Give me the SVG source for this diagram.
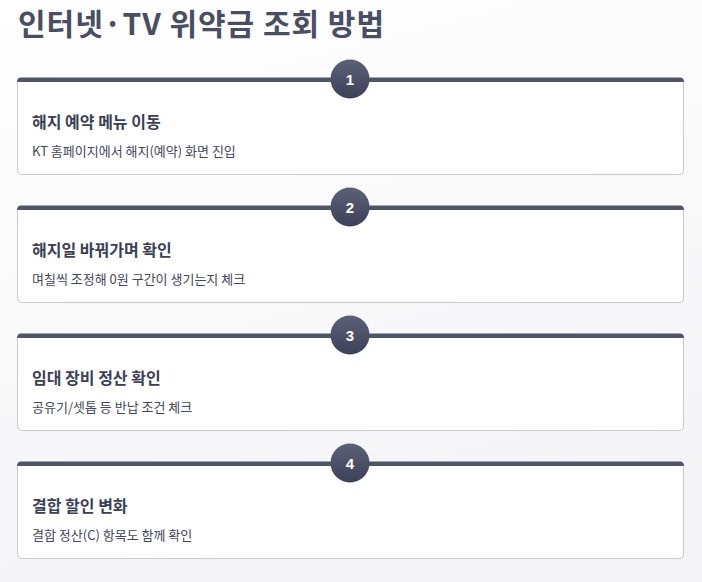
<svg xmlns="http://www.w3.org/2000/svg" width="702" height="582" viewBox="0 0 702 582">
<defs>
<linearGradient id="bg" x1="0" y1="0" x2="0.3" y2="1">
<stop offset="0" stop-color="#ffffff"/>
<stop offset="1" stop-color="#f4f4f6"/>
</linearGradient>
<linearGradient id="cg" x1="0" y1="0" x2="0" y2="1">
<stop offset="0" stop-color="#5d6177"/>
<stop offset="1" stop-color="#3d4157"/>
</linearGradient>
<style>
.card{fill:#ffffff;stroke:#c9c9d1;stroke-width:1}
.bar{fill:#50546a}
.num{font-family:"Liberation Sans",Arial,sans-serif;font-weight:bold;font-size:15px;fill:#ffffff;text-anchor:middle}
.t{font-family:"Noto Sans CJK KR","Noto Sans",sans-serif;font-weight:bold;font-size:16px;fill:#3c4054}
.s{font-family:"Noto Sans CJK KR","Noto Sans",sans-serif;font-size:13px;fill:#43475a}
.h{font-family:"Noto Sans CJK KR","Noto Sans",sans-serif;font-weight:bold;font-size:30px;fill:#4a4e62}
</style>
</defs>
<rect width="702" height="582" fill="url(#bg)"/>
<text class="h" x="18" y="35" textLength="366" lengthAdjust="spacing">인터넷·TV 위약금 조회 방법</text>
<g id="step1">
<rect class="card" x="17.5" y="78.5" width="666" height="96" rx="4"/>
<path class="bar" d="M17,82 Q17,77.5 21,77.5 H680 Q684,77.5 684,82 Z"/>
<circle cx="350" cy="79" r="19.5" fill="url(#cg)"/>
<text class="num" x="350" y="84.5">1</text>
<text class="t" x="32" y="128">해지 예약 메뉴 이동</text>
<text class="s" x="32" y="156">KT 홈페이지에서 해지(예약) 화면 진입</text>
</g>
<g id="step2">
<rect class="card" x="17.5" y="206.5" width="666" height="96" rx="4"/>
<path class="bar" d="M17,210 Q17,205.5 21,205.5 H680 Q684,205.5 684,210 Z"/>
<circle cx="350" cy="207" r="19.5" fill="url(#cg)"/>
<text class="num" x="350" y="212.5">2</text>
<text class="t" x="32" y="256">해지일 바꿔가며 확인</text>
<text class="s" x="32" y="284">며칠씩 조정해 0원 구간이 생기는지 체크</text>
</g>
<g id="step3">
<rect class="card" x="17.5" y="334.5" width="666" height="96" rx="4"/>
<path class="bar" d="M17,338 Q17,333.5 21,333.5 H680 Q684,333.5 684,338 Z"/>
<circle cx="350" cy="335" r="19.5" fill="url(#cg)"/>
<text class="num" x="350" y="340.5">3</text>
<text class="t" x="32" y="384">임대 장비 정산 확인</text>
<text class="s" x="32" y="412">공유기/셋톱 등 반납 조건 체크</text>
</g>
<g id="step4">
<rect class="card" x="17.5" y="462.5" width="666" height="96" rx="4"/>
<path class="bar" d="M17,466 Q17,461.5 21,461.5 H680 Q684,461.5 684,466 Z"/>
<circle cx="350" cy="463" r="19.5" fill="url(#cg)"/>
<text class="num" x="350" y="468.5">4</text>
<text class="t" x="32" y="512">결합 할인 변화</text>
<text class="s" x="32" y="540">결합 정산(C) 항목도 함께 확인</text>
</g>
<g id="connectors"></g>
</svg>
